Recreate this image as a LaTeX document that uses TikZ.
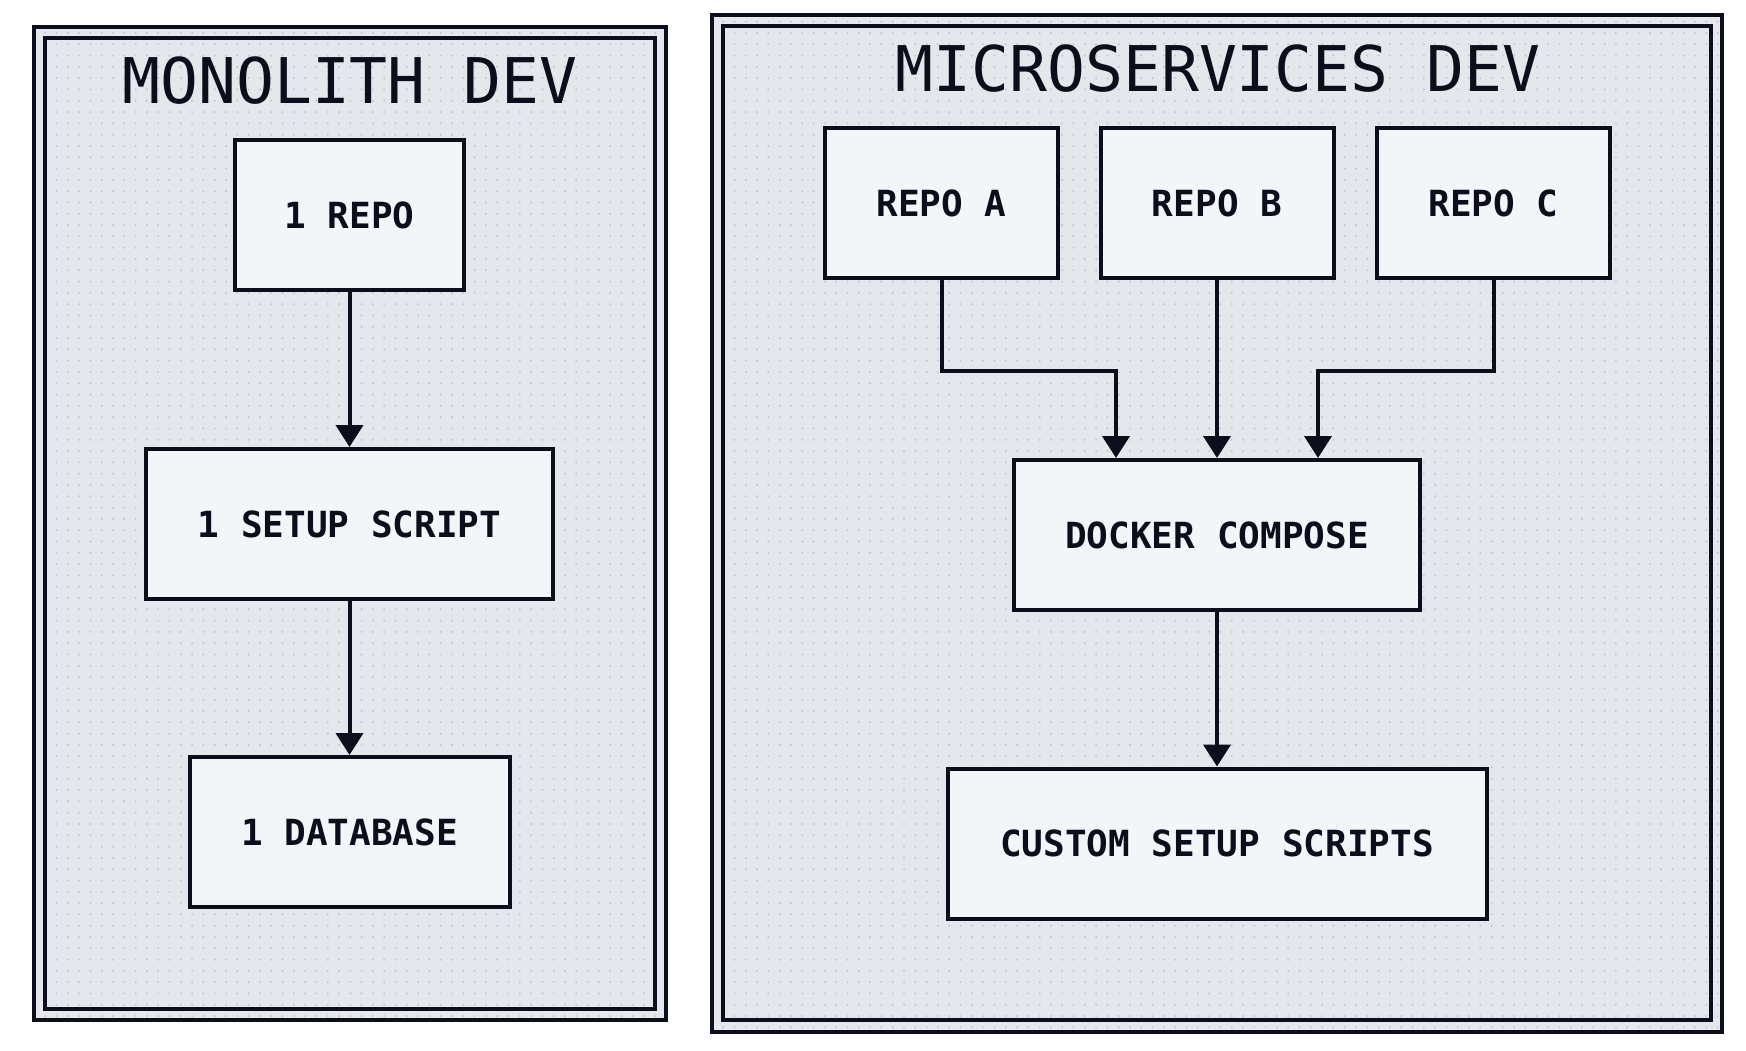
\documentclass[tikz,border=0pt]{standalone}
\usepackage{fontspec}
\newfontfamily\monofam{DejaVu Sans Mono}
\usetikzlibrary{arrows.meta,patterns.meta}
\definecolor{ink}{HTML}{0B0F1C}
\definecolor{boxfill}{HTML}{F4F5F9}
\definecolor{grpbg}{HTML}{E6E7ED}
\definecolor{dotc}{HTML}{C8C9D1}
\begin{document}
\begin{tikzpicture}[x=0.5pt,y=-0.5pt,
  grp/.style={draw=ink,line width=2.2pt,preaction={fill=grpbg},pattern={Dots[distance=5.65pt,radius=0.6pt]},pattern color=dotc},
  grpin/.style={draw=ink,line width=2.2pt},
  ttl/.style={font=\monofam\fontsize{31.5pt}{36pt}\selectfont,text=ink,inner sep=0pt},
  box/.style={draw=ink,line width=2pt,fill=boxfill,minimum height=75pt,inner sep=0pt,
    font=\monofam\bfseries\fontsize{18pt}{21pt}\selectfont,text=ink},
  arr/.style={draw=ink,line width=2pt,-{Triangle[width=13.5pt,length=11pt]}}]
\useasboundingbox[fill=white] (0,0) rectangle (1746,1050);
% groups
\path[grp] (34,27) rectangle (666,1020);
\path[grpin] (45,38) rectangle (655,1009);
\path[grp] (712,15) rectangle (1722,1032);
\path[grpin] (723,26) rectangle (1711,1020);
\node[ttl] (t1) at (350,81) {MONOLITH DEV};
\node[ttl] (t2) at (1218,69) {MICROSERVICES DEV};
% monolith
\node[box,minimum width=114.5pt] (r1) at (349.5,215) {1 REPO};
\node[box,minimum width=203.5pt] (s1) at (349.5,524) {1 SETUP SCRIPT};
\node[box,minimum width=160pt] (d1) at (349.5,832) {1 DATABASE};
\draw[arr] (r1.south) -- (s1.north);
\draw[arr] (s1.south) -- (d1.north);
% microservices
\node[box,minimum width=116.5pt] (ra) at (941.5,203) {REPO A};
\node[box,minimum width=116.5pt] (rb) at (1217,203) {REPO B};
\node[box,minimum width=116.5pt] (rc) at (1493.5,203) {REPO C};
\node[box,minimum width=203pt] (dc) at (1217,535) {DOCKER COMPOSE};
\node[box,minimum width=269.5pt] (cs) at (1217,843.5) {CUSTOM SETUP SCRIPTS};
\draw[arr] (ra.south) -- ++(0,91) -| ([xshift=-50.5pt]dc.north);
\draw[arr] (rb.south) -- (dc.north);
\draw[arr] (rc.south) -- ++(0,91) -| ([xshift=50.5pt]dc.north);
\draw[arr] (dc.south) -- (cs.north);
\end{tikzpicture}
\end{document}
